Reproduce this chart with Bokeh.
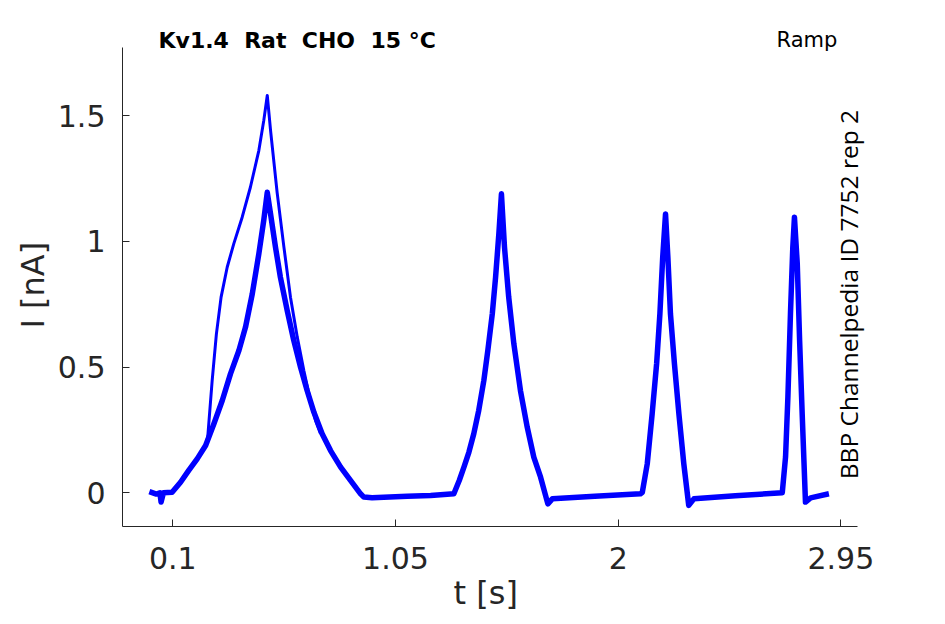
import math
from bokeh.plotting import figure
from bokeh.models import Range1d, Label, FixedTicker, Title
from bokeh.embed import file_html
from bokeh.resources import INLINE

# ---- data ----
t_main = [0.000, 0.030, 0.045, 0.050, 0.060, 0.097, 0.133, 0.168, 0.204, 0.240,
          0.275, 0.311, 0.346, 0.382, 0.410, 0.439, 0.467, 0.488, 0.503, 0.517,
          0.538, 0.559, 0.588, 0.616, 0.645, 0.673, 0.702, 0.737, 0.773, 0.816,
          0.858, 0.901, 0.915, 0.950, 1.100, 1.200, 1.299, 1.322, 1.342, 1.363,
          1.384, 1.405, 1.427, 1.444, 1.463, 1.477, 1.491, 1.502, 1.515, 1.533,
          1.555, 1.583, 1.612, 1.640, 1.669, 1.700, 1.719, 1.900, 2.095, 2.103,
          2.124, 2.145, 2.164, 2.178, 2.190, 2.202, 2.212, 2.223, 2.240, 2.259,
          2.280, 2.301, 2.323, 2.500, 2.700, 2.714, 2.724, 2.735, 2.745, 2.752,
          2.764, 2.774, 2.785, 2.799, 2.821, 2.899]
i_main = [0.005, -0.005, 0.000, -0.037, 0.000, 0.002, 0.042, 0.089, 0.135, 0.188,
          0.274, 0.367, 0.473, 0.566, 0.658, 0.791, 0.950, 1.083, 1.195, 1.109,
          0.977, 0.857, 0.725, 0.606, 0.499, 0.407, 0.320, 0.235, 0.168, 0.102,
          0.049, -0.004, -0.017, -0.020, -0.014, -0.011, -0.004, 0.049, 0.102, 0.161,
          0.235, 0.327, 0.447, 0.566, 0.712, 0.857, 1.030, 1.189, 0.977, 0.778,
          0.592, 0.407, 0.261, 0.142, 0.062, -0.044, -0.024, -0.014, -0.004, 0.002,
          0.115, 0.314, 0.513, 0.712, 0.937, 1.109, 0.937, 0.712, 0.513, 0.314,
          0.115, -0.050, -0.024, -0.012, 0.000, 0.142, 0.380, 0.712, 0.977, 1.096,
          0.911, 0.606, 0.314, -0.037, -0.020, -0.004]

t_sweep1 = [0.240, 0.249, 0.268, 0.286, 0.306, 0.332, 0.360, 0.396, 0.431, 0.467,
            0.488, 0.503, 0.517, 0.545, 0.574, 0.602, 0.631, 0.659, 0.687, 0.709,
            0.730]
i_sweep1 = [0.188, 0.221, 0.447, 0.632, 0.778, 0.897, 0.990, 1.096, 1.215, 1.361,
            1.480, 1.580, 1.441, 1.195, 0.977, 0.778, 0.619, 0.486, 0.367, 0.287,
            0.235]

x_ticks = [0.1, 1.05, 2.0, 2.95]
x_tick_labels = ["0.1", "1.05", "2", "2.95"]
y_ticks = [0.0, 0.5, 1.0, 1.5]
y_tick_labels = ["0", "0.5", "1", "1.5"]

title_text = "Kv1.4 \u00a0Rat \u00a0CHO \u00a015 °C"
protocol_text = "Ramp"
id_text = "BBP Channelpedia ID 7752 rep 2"
x_label = "t [s]"
y_label = "I [nA]"

AX = "#262626"
X0, X1 = -0.1146, 3.021      # axis extent (time)
Y0, Y1 = -0.134, 1.772       # axis extent (current)

p = figure(width=945, height=624, output_backend="svg", toolbar_location=None,
           x_range=Range1d(X0, 3.3964), y_range=Range1d(Y0, 1.9577),
           min_border_left=122, min_border_right=0, min_border_top=0,
           min_border_bottom=98)
p.outline_line_color = None
p.grid.visible = False
p.background_fill_color = "white"
p.border_fill_color = "white"

p.line(t_main, i_main, line_color="#0000FF", line_width=5.5, line_join="round")
p.line(t_sweep1, i_sweep1, line_color="#0000FF", line_width=3, line_join="round")

for ax in (p.xaxis[0], p.yaxis[0]):
    ax.axis_line_color = AX
    ax.major_tick_line_color = AX
    ax.major_tick_in = 7
    ax.major_tick_out = 0
    ax.minor_tick_line_color = None
    ax.major_label_text_font = "DejaVu Sans"
    ax.major_label_text_font_size = "30px"
    ax.major_label_text_color = AX

p.xaxis.bounds = (X0, X1)
p.yaxis.bounds = (Y0, Y1)
p.xaxis.ticker = FixedTicker(ticks=x_ticks)
p.xaxis.major_label_overrides = {v: s for v, s in zip(x_ticks, x_tick_labels)}
p.yaxis.ticker = FixedTicker(ticks=y_ticks)
p.yaxis.major_label_overrides = {v: s for v, s in zip(y_ticks, y_tick_labels)}
p.xaxis.major_label_standoff = 20
p.yaxis.major_label_standoff = 17

# axis titles, placed so they are centred on the drawn axes
p.add_layout(Title(text=x_label, align="left", offset=331, standoff=0,
                   text_font="DejaVu Sans", text_font_size="32px",
                   text_font_style="normal", text_color=AX), "below")
p.add_layout(Title(text=y_label, align="left", offset=198, standoff=5,
                   text_font="DejaVu Sans", text_font_size="32px",
                   text_font_style="normal", text_color=AX), "left")

p.add_layout(Label(x=0.039, y=1.80, text=title_text, text_font="DejaVu Sans",
                   text_font_style="bold", text_font_size="22px",
                   text_color="black", text_baseline="alphabetic",
                   text_align="left"))
p.add_layout(Label(x=2.6755, y=1.802, text=protocol_text, text_font="DejaVu Sans",
                   text_font_size="21px", text_color="black",
                   text_baseline="alphabetic", text_align="left"))
p.add_layout(Label(x=2.981, y=0.054, text=id_text, text_font="Open Sans",
                   text_font_size="24.5px", text_color="black", angle=math.pi / 2,
                   text_baseline="alphabetic", text_align="left"))

open("out.html", "w").write(file_html(p, INLINE))
